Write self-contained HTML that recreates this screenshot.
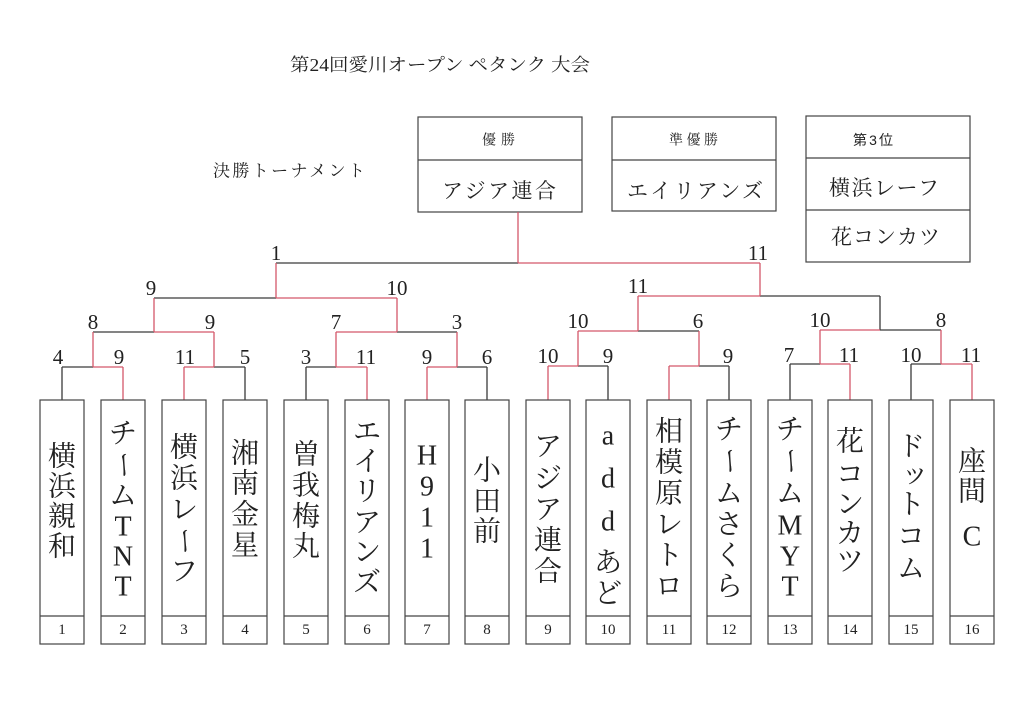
<!DOCTYPE html>
<html><head><meta charset="utf-8"><style>
html,body{margin:0;padding:0;background:#fff;}
svg{display:block;}
.v{font-size:28px;text-anchor:middle;dominant-baseline:central;}
.n{font-size:15px;text-anchor:middle;dominant-baseline:central;}
.s{font-size:21px;text-anchor:middle;}
</style></head><body>
<svg width="1024" height="728" viewBox="0 0 1024 728" xmlns="http://www.w3.org/2000/svg">
<rect width="1024" height="728" fill="#fff"/>
<g font-family="'Liberation Serif','Noto Serif CJK SC',serif" fill="#222">
<!-- title -->
<text x="290" y="65" font-size="18" dominant-baseline="central" textLength="300" lengthAdjust="spacingAndGlyphs">第24回愛川オープン ペタンク 大会</text>
<text x="213" y="171" font-size="17" dominant-baseline="central" textLength="152" lengthAdjust="spacing">決勝トーナメント</text>

<!-- result boxes -->
<g fill="none" stroke="#444" stroke-width="1.2">
<rect x="418" y="117" width="164" height="95"/><line x1="418" y1="160" x2="582" y2="160"/>
<rect x="612" y="117" width="164" height="94"/><line x1="612" y1="160" x2="776" y2="160"/>
<rect x="806" y="116" width="164" height="146"/><line x1="806" y1="158" x2="970" y2="158"/><line x1="806" y1="210" x2="970" y2="210"/>
</g>
<text x="482" y="141" font-size="14" dominant-baseline="central" textLength="33" lengthAdjust="spacing">優勝</text>
<text x="669" y="141" font-size="14" dominant-baseline="central" textLength="49" lengthAdjust="spacing">準優勝</text>
<text x="853" y="140" font-size="14" dominant-baseline="central" font-family="'Liberation Sans','Noto Sans CJK JP',sans-serif" textLength="40" lengthAdjust="spacing">第3位</text>
<text x="442" y="191" font-size="21" dominant-baseline="central" textLength="114" lengthAdjust="spacing">アジア連合</text>
<text x="627" y="191" font-size="21" dominant-baseline="central" textLength="136" lengthAdjust="spacing">エイリアンズ</text>
<text x="829" y="188" font-size="21" dominant-baseline="central" textLength="110" lengthAdjust="spacing">横浜レーフ</text>
<text x="831" y="237" font-size="21" dominant-baseline="central" textLength="109" lengthAdjust="spacing">花コンカツ</text>

<!-- bracket lines: black -->
<g stroke="#3a3a3a" stroke-width="1.3" fill="none">
<line x1="276" y1="263" x2="518" y2="263"/>
<line x1="154" y1="298" x2="276" y2="298"/>
<line x1="93" y1="332" x2="154" y2="332"/>
<line x1="397" y1="332" x2="457" y2="332"/>
<line x1="62" y1="367" x2="93" y2="367"/><line x1="62" y1="367" x2="62" y2="400"/>
<line x1="214" y1="367" x2="245" y2="367"/><line x1="245" y1="367" x2="245" y2="400"/>
<line x1="306" y1="367" x2="336" y2="367"/><line x1="306" y1="367" x2="306" y2="400"/>
<line x1="457" y1="367" x2="487" y2="367"/><line x1="487" y1="367" x2="487" y2="400"/>
<line x1="760" y1="296" x2="880" y2="296"/><line x1="880" y1="296" x2="880" y2="330"/>
<line x1="638" y1="331" x2="699" y2="331"/>
<line x1="880" y1="330" x2="941" y2="330"/>
<line x1="578" y1="366" x2="608" y2="366"/><line x1="608" y1="366" x2="608" y2="400"/>
<line x1="699" y1="366" x2="729" y2="366"/><line x1="729" y1="366" x2="729" y2="400"/>
<line x1="790" y1="364" x2="820" y2="364"/><line x1="790" y1="364" x2="790" y2="400"/>
<line x1="911" y1="364" x2="941" y2="364"/><line x1="911" y1="364" x2="911" y2="400"/>
</g>
<!-- bracket lines: red (winning path) -->
<g stroke="#d4576a" stroke-width="1.3" fill="none">
<line x1="518" y1="212" x2="518" y2="263"/>
<line x1="518" y1="263" x2="760" y2="263"/><line x1="760" y1="263" x2="760" y2="296"/>
<line x1="276" y1="263" x2="276" y2="298"/>
<line x1="276" y1="298" x2="397" y2="298"/>
<line x1="154" y1="298" x2="154" y2="332"/><line x1="397" y1="298" x2="397" y2="332"/>
<line x1="154" y1="332" x2="214" y2="332"/>
<line x1="336" y1="332" x2="397" y2="332"/>
<line x1="93" y1="332" x2="93" y2="367"/><line x1="214" y1="332" x2="214" y2="367"/>
<line x1="336" y1="332" x2="336" y2="367"/><line x1="457" y1="332" x2="457" y2="367"/>
<line x1="93" y1="367" x2="123" y2="367"/><line x1="123" y1="367" x2="123" y2="400"/>
<line x1="184" y1="367" x2="214" y2="367"/><line x1="184" y1="367" x2="184" y2="400"/>
<line x1="336" y1="367" x2="367" y2="367"/><line x1="367" y1="367" x2="367" y2="400"/>
<line x1="427" y1="367" x2="457" y2="367"/><line x1="427" y1="367" x2="427" y2="400"/>
<line x1="638" y1="296" x2="760" y2="296"/><line x1="638" y1="296" x2="638" y2="331"/>
<line x1="578" y1="331" x2="638" y2="331"/>
<line x1="820" y1="330" x2="880" y2="330"/>
<line x1="578" y1="331" x2="578" y2="366"/><line x1="699" y1="331" x2="699" y2="366"/>
<line x1="820" y1="330" x2="820" y2="364"/><line x1="941" y1="330" x2="941" y2="364"/>
<line x1="548" y1="366" x2="578" y2="366"/><line x1="548" y1="366" x2="548" y2="400"/>
<line x1="669" y1="366" x2="699" y2="366"/><line x1="669" y1="366" x2="669" y2="400"/>
<line x1="820" y1="364" x2="850" y2="364"/><line x1="850" y1="364" x2="850" y2="400"/>
<line x1="941" y1="364" x2="972" y2="364"/><line x1="972" y1="364" x2="972" y2="400"/>
</g>

<!-- scores -->
<text class="s" x="276" y="260">1</text>
<text class="s" x="758" y="260">11</text>
<text class="s" x="151" y="295">9</text>
<text class="s" x="397" y="295">10</text>
<text class="s" x="638" y="293">11</text>
<text class="s" x="93" y="329">8</text>
<text class="s" x="210" y="329">9</text>
<text class="s" x="336" y="329">7</text>
<text class="s" x="457" y="329">3</text>
<text class="s" x="578" y="328">10</text>
<text class="s" x="698" y="328">6</text>
<text class="s" x="820" y="327">10</text>
<text class="s" x="941" y="327">8</text>
<text class="s" x="58" y="364">4</text>
<text class="s" x="119" y="364">9</text>
<text class="s" x="185" y="364">11</text>
<text class="s" x="245" y="364">5</text>
<text class="s" x="306" y="364">3</text>
<text class="s" x="366" y="364">11</text>
<text class="s" x="427" y="364">9</text>
<text class="s" x="487" y="364">6</text>
<text class="s" x="548" y="363">10</text>
<text class="s" x="608" y="363">9</text>
<text class="s" x="728" y="363">9</text>
<text class="s" x="789" y="362">7</text>
<text class="s" x="849" y="362">11</text>
<text class="s" x="911" y="362">10</text>
<text class="s" x="971" y="362">11</text>

<!-- team boxes -->
<g fill="none" stroke="#444" stroke-width="1.2">
<rect x="40" y="400" width="44" height="244"/><line x1="40" y1="616" x2="84" y2="616"/>
<rect x="101" y="400" width="44" height="244"/><line x1="101" y1="616" x2="145" y2="616"/>
<rect x="162" y="400" width="44" height="244"/><line x1="162" y1="616" x2="206" y2="616"/>
<rect x="223" y="400" width="44" height="244"/><line x1="223" y1="616" x2="267" y2="616"/>
<rect x="284" y="400" width="44" height="244"/><line x1="284" y1="616" x2="328" y2="616"/>
<rect x="345" y="400" width="44" height="244"/><line x1="345" y1="616" x2="389" y2="616"/>
<rect x="405" y="400" width="44" height="244"/><line x1="405" y1="616" x2="449" y2="616"/>
<rect x="465" y="400" width="44" height="244"/><line x1="465" y1="616" x2="509" y2="616"/>
<rect x="526" y="400" width="44" height="244"/><line x1="526" y1="616" x2="570" y2="616"/>
<rect x="586" y="400" width="44" height="244"/><line x1="586" y1="616" x2="630" y2="616"/>
<rect x="647" y="400" width="44" height="244"/><line x1="647" y1="616" x2="691" y2="616"/>
<rect x="707" y="400" width="44" height="244"/><line x1="707" y1="616" x2="751" y2="616"/>
<rect x="768" y="400" width="44" height="244"/><line x1="768" y1="616" x2="812" y2="616"/>
<rect x="828" y="400" width="44" height="244"/><line x1="828" y1="616" x2="872" y2="616"/>
<rect x="889" y="400" width="44" height="244"/><line x1="889" y1="616" x2="933" y2="616"/>
<rect x="950" y="400" width="44" height="244"/><line x1="950" y1="616" x2="994" y2="616"/>
</g>
<text class="n" x="62" y="630">1</text>
<text class="n" x="123" y="630">2</text>
<text class="n" x="184" y="630">3</text>
<text class="n" x="245" y="630">4</text>
<text class="n" x="306" y="630">5</text>
<text class="n" x="367" y="630">6</text>
<text class="n" x="427" y="630">7</text>
<text class="n" x="487" y="630">8</text>
<text class="n" x="548" y="630">9</text>
<text class="n" x="608" y="630">10</text>
<text class="n" x="669" y="630">11</text>
<text class="n" x="729" y="630">12</text>
<text class="n" x="790" y="630">13</text>
<text class="n" x="850" y="630">14</text>
<text class="n" x="911" y="630">15</text>
<text class="n" x="972" y="630">16</text>

<!-- team names (vertical) -->
<!-- 1 横浜親和 -->
<text class="v" x="62" y="457">横</text><text class="v" x="62" y="487">浜</text><text class="v" x="62" y="517">親</text><text class="v" x="62" y="547">和</text>
<!-- 2 チームTNT -->
<text class="v" x="123" y="434">チ</text><text class="v" x="123" y="465" transform="rotate(90 123 465)">ー</text><text class="v" x="123" y="496">ム</text><text class="v" x="123" y="527">T</text><text class="v" x="123" y="557">N</text><text class="v" x="123" y="587">T</text>
<!-- 3 横浜レーフ -->
<text class="v" x="184" y="448">横</text><text class="v" x="184" y="479">浜</text><text class="v" x="184" y="510">レ</text><text class="v" x="184" y="541" transform="rotate(90 184 541)">ー</text><text class="v" x="184" y="572">フ</text>
<!-- 4 湘南金星 -->
<text class="v" x="245" y="454">湘</text><text class="v" x="245" y="484">南</text><text class="v" x="245" y="515">金</text><text class="v" x="245" y="546">星</text>
<!-- 5 曽我梅丸 -->
<text class="v" x="306" y="455">曽</text><text class="v" x="306" y="486">我</text><text class="v" x="306" y="517">梅</text><text class="v" x="306" y="547">丸</text>
<!-- 6 エイリアンズ -->
<text class="v" x="367" y="432">エ</text><text class="v" x="367" y="462">イ</text><text class="v" x="367" y="492">リ</text><text class="v" x="367" y="523">ア</text><text class="v" x="367" y="553">ン</text><text class="v" x="367" y="583">ズ</text>
<!-- 7 H911 -->
<text class="v" x="427" y="456">H</text><text class="v" x="427" y="487">9</text><text class="v" x="427" y="518">1</text><text class="v" x="427" y="549">1</text>
<!-- 8 小田前 -->
<text class="v" x="487" y="471">小</text><text class="v" x="487" y="502">田</text><text class="v" x="487" y="532">前</text>
<!-- 9 アジア連合 -->
<text class="v" x="548" y="447">ア</text><text class="v" x="548" y="479">ジ</text><text class="v" x="548" y="510">ア</text><text class="v" x="548" y="541">連</text><text class="v" x="548" y="572">合</text>
<!-- 10 a d d あど -->
<text class="v" x="608" y="436">a</text><text class="v" x="608" y="479">d</text><text class="v" x="608" y="522">d</text><text class="v" x="608" y="563">あ</text><text class="v" x="608" y="594">ど</text>
<!-- 11 相模原レトロ -->
<text class="v" x="669" y="432">相</text><text class="v" x="669" y="463">模</text><text class="v" x="669" y="494">原</text><text class="v" x="669" y="525">レ</text><text class="v" x="669" y="556">ト</text><text class="v" x="669" y="587">ロ</text>
<!-- 12 チームさくら -->
<text class="v" x="729" y="430">チ</text><text class="v" x="729" y="461" transform="rotate(90 729 461)">ー</text><text class="v" x="729" y="494">ム</text><text class="v" x="729" y="525">さ</text><text class="v" x="729" y="556">く</text><text class="v" x="729" y="587">ら</text>
<!-- 13 チームMYT -->
<text class="v" x="790" y="430">チ</text><text class="v" x="790" y="461" transform="rotate(90 790 461)">ー</text><text class="v" x="790" y="494">ム</text><text class="v" x="790" y="526">M</text><text class="v" x="790" y="557">Y</text><text class="v" x="790" y="587">T</text>
<!-- 14 花コンカツ -->
<text class="v" x="850" y="442">花</text><text class="v" x="850" y="475">コ</text><text class="v" x="850" y="505">ン</text><text class="v" x="850" y="534">カ</text><text class="v" x="850" y="562">ツ</text>
<!-- 15 ドットコム -->
<text class="v" x="911" y="447">ド</text><text class="v" x="915" y="474">ッ</text><text class="v" x="911" y="505">ト</text><text class="v" x="911" y="537">コ</text><text class="v" x="911" y="569">ム</text>
<!-- 16 座間C -->
<text class="v" x="972" y="462">座</text><text class="v" x="972" y="492">間</text><text class="v" x="972" y="537">C</text>
</g>
</svg>
</body></html>
